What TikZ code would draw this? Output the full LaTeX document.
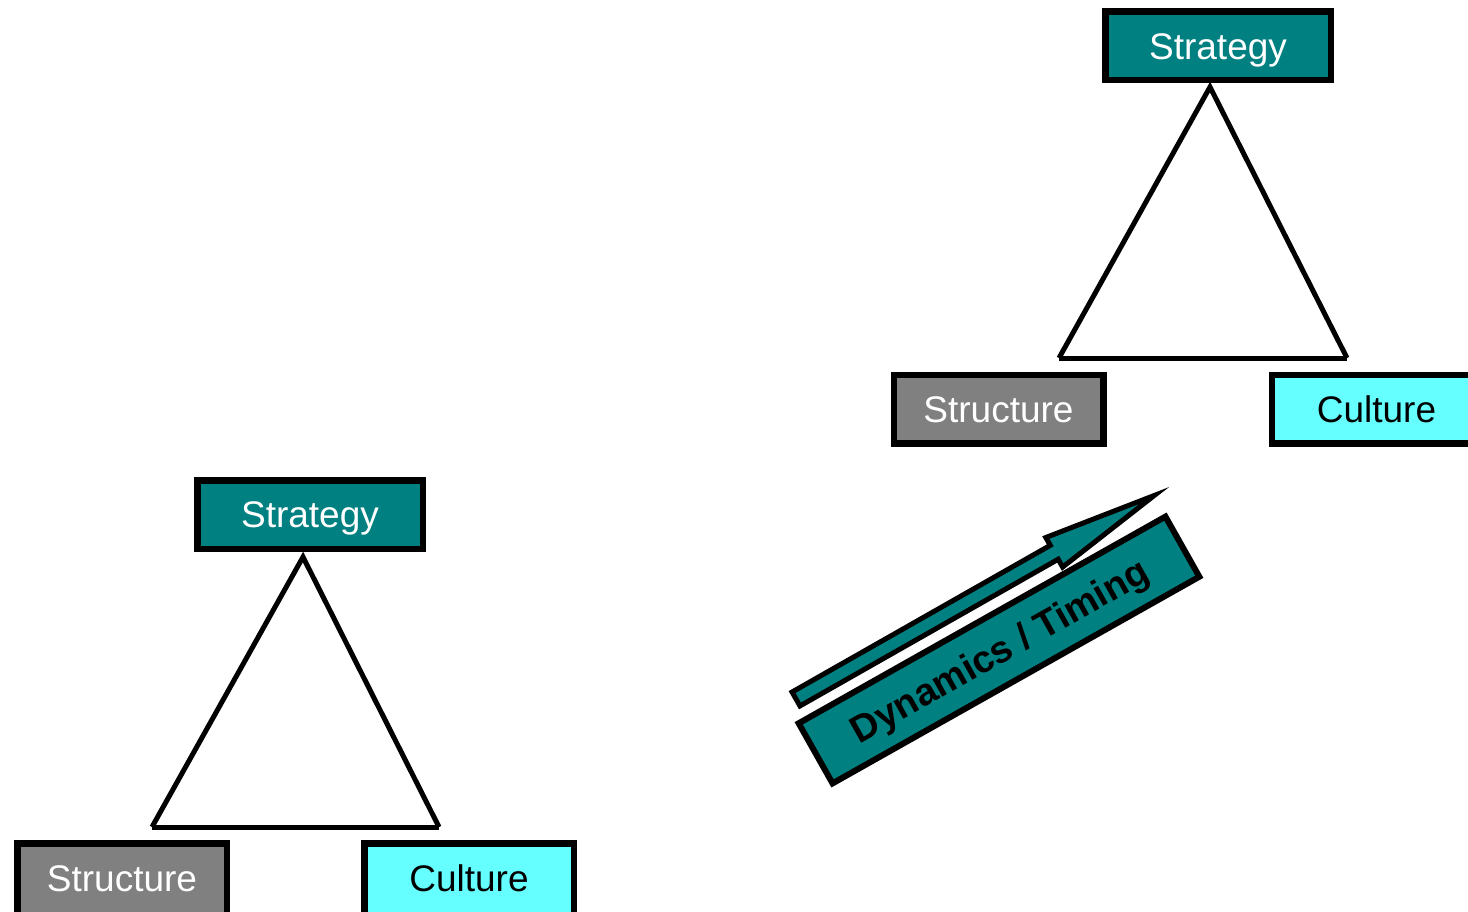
\documentclass[tikz,border=0pt]{standalone}
\usepackage{fontspec}
\setmainfont{Liberation Sans}
\definecolor{tealfill}{RGB}{0,128,128}
\definecolor{grayfill}{RGB}{128,128,128}
\definecolor{cyanfill}{RGB}{102,255,255}

\begin{document}
\begin{tikzpicture}[x=1pt,y=-1pt,
  box/.style={draw=black, line width=6.5pt, minimum width=225.5pt, minimum height=68.5pt,
    inner sep=0pt, font=\fontsize{37}{44}\selectfont, text height=26.5pt, text depth=0pt},
  stratbox/.style={box, fill=tealfill, text=white},
  sidebox/.style={box, minimum width=209.5pt},
  structbox/.style={sidebox, fill=grayfill, text=white},
  cultbox/.style={sidebox, fill=cyanfill, text=black},
  tallbox/.style={minimum height=76.5pt, text depth=7pt},
  tri/.style={draw=black, line width=5pt},
  dynbox/.style={draw=black, line width=6pt, fill=tealfill, minimum width=421pt, minimum height=69pt,
    inner sep=0pt, font=\fontsize{38}{45}\selectfont\bfseries, text height=27pt, text depth=0pt},
  blockarrow/.style={draw=black, line width=5pt, fill=tealfill, line join=miter}
]
\useasboundingbox (0,0) rectangle (1468,912);
\clip (0,0) rectangle (1468,912);

% left triad
\node[stratbox]  (lstrat)  at (310,514.5) {Strategy};
\node[structbox, tallbox] (lstruct) at (122,881.5) {Structure};
\node[cultbox, tallbox]   (lcult)   at (469,881.5) {Culture};
\coordinate (ltop) at (303,557);
\coordinate (lbl)  at (152,827);
\coordinate (lbr)  at (439,827);
\draw[tri] (lbl) -- (ltop) -- (lbr);
\draw[tri] (lbl) -- (lbr);

% right triad
\node[stratbox]  (rstrat)  at (1218,46)    {Strategy};
\node[structbox] (rstruct) at (998.5,409)  {Structure};
\node[cultbox]   (rcult)   at (1376.5,409) {Culture};
\coordinate (rtop) at (1210,87);
\coordinate (rbl)  at (1059,358);
\coordinate (rbr)  at (1347,358);
\draw[tri] (rbl) -- (rtop) -- (rbr);
\draw[tri] (rbl) -- (rbr);

% transition banner and arrow
\node[dynbox, rotate=29.4] (dyn) at (999,650) {Dynamics / Timing};
\begin{scope}[shift={(796,699)}, rotate=29.6]
  \draw[blockarrow] (0,-8) -- (297,-8) -- (297,-17) -- (412,0) -- (297,17) -- (297,8) -- (0,8) -- cycle;
\end{scope}
\end{tikzpicture}
\end{document}
